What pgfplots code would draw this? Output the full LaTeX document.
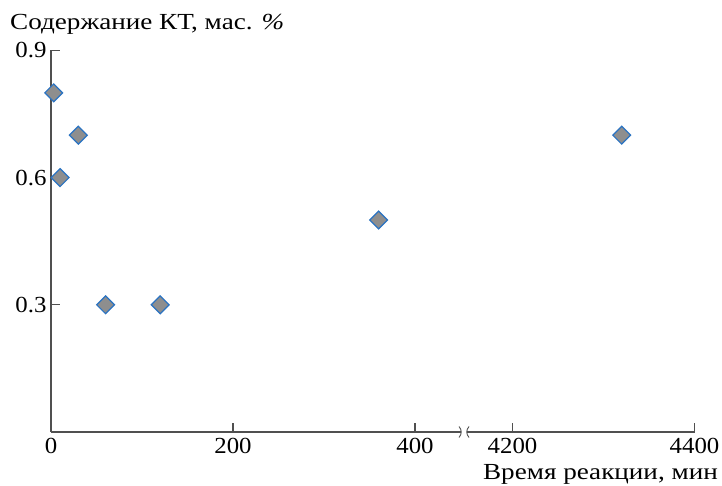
\documentclass[border=0pt]{standalone}
\usepackage{pgfplots}
\pgfplotsset{compat=1.18}
\usepackage{fontspec}
\setmainfont{Liberation Serif}
\newfontfamily\labelfont[FakeStretch=1.18]{Liberation Serif}
\newfontfamily\tickfont[FakeStretch=1.08]{Liberation Serif}
\definecolor{axisgray}{HTML}{505050}
\definecolor{mkfill}{HTML}{8E8E8E}
\definecolor{mkedge}{HTML}{2A73C2}
\pgfplotsset{
  common/.style={
    x=0.91pt, y=424pt,
    ymin=0, ymax=0.9,
    scale only axis,
    clip=false,
    axis line style={axisgray, line width=1.1pt},
    tick style={axisgray, line width=1.1pt},
    major tick length=9pt,
    tick align=inside,
    /pgf/number format/assume math mode=true,
    /pgf/number format/1000 sep={},
    ticklabel style={font=\tickfont\fontsize{23}{26}\selectfont},
    xticklabel style={yshift=-3pt},
    yticklabel style={/pgf/number format/fixed, /pgf/number format/precision=1, /pgf/number format/fixed zerofill, xshift=-1pt},
  },
  mk/.style={only marks, mark=square*, mark size=6.3pt,
    mark options={rotate=45, fill=mkfill, draw=mkedge, line width=1.2pt}},
}
\begin{document}
\begin{tikzpicture}
\useasboundingbox (-51pt,-54pt) rectangle (671pt,432pt);
\begin{axis}[common,
  xmin=0, xmax=450,
  axis x line*=bottom, axis y line*=left,
  xtick={0,200,400}, ytick={0.3,0.6,0.9},
  x axis line style={-}, y axis line style={-},
]
\addplot[mk] coordinates {(3,0.8) (10,0.6) (30,0.7) (60,0.3) (120,0.3) (360,0.5)};
\end{axis}
\begin{axis}[common, at={(416pt,0pt)},
  xmin=4150, xmax=4400,
  axis x line*=bottom, axis y line=none,
  xtick={4200,4400}, ytick=\empty,
  x axis line style={-},
]
\addplot[mk] coordinates {(4320,0.7)};
\end{axis}
\draw[axisgray, line width=0.9pt] (408pt,-5.5pt) .. controls (411pt,-2pt) and (411pt,2pt) .. (408pt,5.5pt);
\draw[axisgray, line width=0.9pt] (418pt,-5.5pt) .. controls (415pt,-2pt) and (415pt,2pt) .. (418pt,5.5pt);
\node[anchor=base west, inner sep=0pt, font=\labelfont\fontsize{23}{26}\selectfont] at (-41pt,402pt) {Содержание КТ, мас. \textit{\%}};
\node[anchor=base east, inner sep=0pt, font=\labelfont\fontsize{23}{26}\selectfont] at (667pt,-48pt) {Время реакции, мин};
\end{tikzpicture}
\end{document}
